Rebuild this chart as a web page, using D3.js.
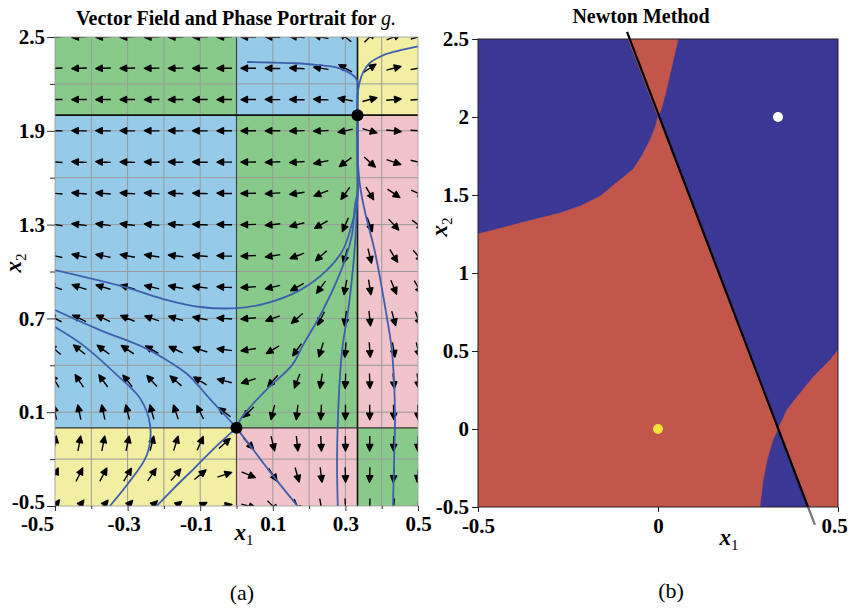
<!DOCTYPE html>
<html><head><meta charset="utf-8">
<script src="https://cdn.jsdelivr.net/npm/d3@7"></script>
<style>
body{margin:0;background:#fff}
svg{display:block}
text{font-family:"Liberation Serif","Times New Roman",serif}
</style>
</head><body>
<svg id="c" width="849" height="613"></svg>
<script>
// ---------------- DATA ----------------
// (a) vector field sample grid
const fieldX1 = [-0.5,-0.433,-0.367,-0.3,-0.233,-0.167,-0.1,-0.033,0.033,0.1,0.167,0.233,0.3,0.367,0.433,0.5];
const fieldX2 = [2.5,2.3,2.1,1.9,1.7,1.5,1.3,1.1,0.9,0.7,0.5,0.3,0.1,-0.1,-0.3,-0.5];
// horizontal components (rows follow fieldX2, columns follow fieldX1)
const fieldU = [
 [-6.25,-5.75,-5.25,-4.75,-4.25,-3.75,-3.25,-2.75,-2.25,-1.75,-1.25,-0.75,-0.25,0.25,0.75,1.25],
 [-5.75,-5.29,-4.83,-4.37,-3.91,-3.45,-2.99,-2.53,-2.07,-1.61,-1.15,-0.69,-0.23,0.23,0.69,1.15],
 [-5.25,-4.83,-4.41,-3.99,-3.57,-3.15,-2.73,-2.31,-1.89,-1.47,-1.05,-0.63,-0.21,0.21,0.63,1.05],
 [-4.75,-4.37,-3.99,-3.61,-3.23,-2.85,-2.47,-2.09,-1.71,-1.33,-0.95,-0.57,-0.19,0.19,0.57,0.95],
 [-4.25,-3.91,-3.57,-3.23,-2.89,-2.55,-2.21,-1.87,-1.53,-1.19,-0.85,-0.51,-0.17,0.17,0.51,0.85],
 [-3.75,-3.45,-3.15,-2.85,-2.55,-2.25,-1.95,-1.65,-1.35,-1.05,-0.75,-0.45,-0.15,0.15,0.45,0.75],
 [-3.25,-2.99,-2.73,-2.47,-2.21,-1.95,-1.69,-1.43,-1.17,-0.91,-0.65,-0.39,-0.13,0.13,0.39,0.65],
 [-2.75,-2.53,-2.31,-2.09,-1.87,-1.65,-1.43,-1.21,-0.99,-0.77,-0.55,-0.33,-0.11,0.11,0.33,0.55],
 [-2.25,-2.07,-1.89,-1.71,-1.53,-1.35,-1.17,-0.99,-0.81,-0.63,-0.45,-0.27,-0.09,0.09,0.27,0.45],
 [-1.75,-1.61,-1.47,-1.33,-1.19,-1.05,-0.91,-0.77,-0.63,-0.49,-0.35,-0.21,-0.07,0.07,0.21,0.35],
 [-1.25,-1.15,-1.05,-0.95,-0.85,-0.75,-0.65,-0.55,-0.45,-0.35,-0.25,-0.15,-0.05,0.05,0.15,0.25],
 [-0.75,-0.69,-0.63,-0.57,-0.51,-0.45,-0.39,-0.33,-0.27,-0.21,-0.15,-0.09,-0.03,0.03,0.09,0.15],
 [-0.25,-0.23,-0.21,-0.19,-0.17,-0.15,-0.13,-0.11,-0.09,-0.07,-0.05,-0.03,-0.01,0.01,0.03,0.05],
 [0.25,0.23,0.21,0.19,0.17,0.15,0.13,0.11,0.09,0.07,0.05,0.03,0.01,-0.01,-0.03,-0.05],
 [0.75,0.69,0.63,0.57,0.51,0.45,0.39,0.33,0.27,0.21,0.15,0.09,0.03,-0.03,-0.09,-0.15],
 [1.25,1.15,1.05,0.95,0.85,0.75,0.65,0.55,0.45,0.35,0.25,0.15,0.05,-0.05,-0.15,-0.25]
];
// vertical components
const fieldV = [
 [-0.25,-0.22,-0.18,-0.15,-0.12,-0.08,-0.05,-0.02,0.02,0.05,0.08,0.12,0.15,0.18,0.22,0.25],
 [-0.15,-0.13,-0.11,-0.09,-0.07,-0.05,-0.03,-0.01,0.01,0.03,0.05,0.07,0.09,0.11,0.13,0.15],
 [-0.05,-0.04,-0.04,-0.03,-0.02,-0.02,-0.01,0,0,0.01,0.02,0.02,0.03,0.04,0.04,0.05],
 [0.05,0.04,0.04,0.03,0.02,0.02,0.01,0,0,-0.01,-0.02,-0.02,-0.03,-0.04,-0.04,-0.05],
 [0.15,0.13,0.11,0.09,0.07,0.05,0.03,0.01,-0.01,-0.03,-0.05,-0.07,-0.09,-0.11,-0.13,-0.15],
 [0.25,0.22,0.18,0.15,0.12,0.08,0.05,0.02,-0.02,-0.05,-0.08,-0.12,-0.15,-0.18,-0.22,-0.25],
 [0.35,0.30,0.26,0.21,0.16,0.12,0.07,0.02,-0.02,-0.07,-0.12,-0.16,-0.21,-0.26,-0.30,-0.35],
 [0.45,0.39,0.33,0.27,0.21,0.15,0.09,0.03,-0.03,-0.09,-0.15,-0.21,-0.27,-0.33,-0.39,-0.45],
 [0.55,0.48,0.40,0.33,0.26,0.18,0.11,0.04,-0.04,-0.11,-0.18,-0.26,-0.33,-0.40,-0.48,-0.55],
 [0.65,0.56,0.48,0.39,0.30,0.22,0.13,0.04,-0.04,-0.13,-0.22,-0.30,-0.39,-0.48,-0.56,-0.65],
 [0.75,0.65,0.55,0.45,0.35,0.25,0.15,0.05,-0.05,-0.15,-0.25,-0.35,-0.45,-0.55,-0.65,-0.75],
 [0.85,0.74,0.62,0.51,0.40,0.28,0.17,0.06,-0.06,-0.17,-0.28,-0.40,-0.51,-0.62,-0.74,-0.85],
 [0.95,0.82,0.70,0.57,0.44,0.32,0.19,0.06,-0.06,-0.19,-0.32,-0.44,-0.57,-0.70,-0.82,-0.95],
 [1.05,0.91,0.77,0.63,0.49,0.35,0.21,0.07,-0.07,-0.21,-0.35,-0.49,-0.63,-0.77,-0.91,-1.05],
 [1.15,1.00,0.84,0.69,0.54,0.38,0.23,0.08,-0.08,-0.23,-0.38,-0.54,-0.69,-0.84,-1.00,-1.15],
 [1.25,1.08,0.92,0.75,0.58,0.42,0.25,0.08,-0.08,-0.25,-0.42,-0.58,-0.75,-0.92,-1.08,-1.25]
];
// sign-region bands and colours (rows bottom -> top)
const regionX1 = [-0.5, 0, 1/3, 0.5];
const regionX2 = [-0.5, 0, 2, 2.5];
const regionColors = [
 ["#f2eea2","#f1c3cb","#88ca8a"],
 ["#95cbe8","#88ca8a","#f1c3cb"],
 ["#88ca8a","#95cbe8","#f2eea2"]
];
const gridX1 = [-0.4,-0.3,-0.2,-0.1,0,0.1,0.2,0.3,0.4];
const gridX2 = [2.2,1.9,1.6,1.3,1.0,0.7,0.4,0.1,-0.2];
const separatrixX1 = [0, 1/3];
const separatrixX2 = [0, 2];
const equilibria = [[0,0],[1/3,2]];
const trajectories = [
 [[0.3333,2.0],[0.3334,2.12],[0.335,2.2],[0.328,2.24],[0.31,2.272],[0.28,2.302],[0.22,2.322],[0.161,2.332],[0.09,2.337],[0.029,2.34]],
 [[0.3333,2.0],[0.3336,2.12],[0.338,2.2],[0.35,2.28],[0.368,2.335],[0.404,2.383],[0.442,2.41],[0.5,2.44]],
 [[0.3333,2.0],[0.3335,1.75],[0.3345,1.52],[0.33,1.42],[0.321,1.329],[0.293,1.137],[0.249,1.009],[0.175,0.881],[0.084,0.798],[0.004,0.766],[-0.1,0.773],[-0.191,0.817],[-0.307,0.9],[-0.5,1.009]],
 [[0.3333,2.0],[0.3335,1.75],[0.3343,1.52],[0.3264,1.425],[0.318,1.233],[0.2906,1.022],[0.2355,0.741],[0.1832,0.529],[0.1529,0.401],[0.0868,0.254],[0.0427,0.146],[0.0152,0.069],[0,0]],
 [[0.3333,2.0],[0.3335,1.75],[0.3345,1.52],[0.332,1.425],[0.328,1.233],[0.321,1.022],[0.307,0.741],[0.291,0.497],[0.28,0.101],[0.277,-0.219],[0.279,-0.5]],
 [[0.3333,2.0],[0.3336,1.75],[0.34,1.553],[0.355,1.37],[0.3815,1.124],[0.4146,0.702],[0.428,0.497],[0.4366,0.101],[0.434,-0.219],[0.431,-0.5]],
 [[0,0],[-0.032,0.082],[-0.073,0.184],[-0.136,0.344],[-0.197,0.44],[-0.258,0.517],[-0.376,0.625],[-0.5,0.753]],
 [[0,0],[-0.063,-0.134],[-0.118,-0.262],[-0.174,-0.39],[-0.22,-0.5]],
 [[-0.5,0.645],[-0.423,0.529],[-0.329,0.337],[-0.266,0.19],[-0.238,0.018],[-0.247,-0.174],[-0.302,-0.366],[-0.349,-0.5]],
 [[0,0],[0.051,-0.155],[0.106,-0.322],[0.168,-0.5]]
];
const leftXTicks = [-0.5,-0.3,-0.1,0.1,0.3,0.5];
const leftXMinor = [-0.4,-0.2,0,0.2,0.4];
const leftYTicks = [2.5,1.9,1.3,0.7,0.1,-0.5];
const leftYMinor = [2.2,1.6,1.0,0.4,-0.2];

// (b) Newton basins
const basinTopWedge = [[-0.083,2.5],[0.056,2.5],[0.046,2.4],[0.034,2.28],[0.021,2.15],[0.009,2.05],[0,2]];
const basinMain = [[-0.5,1.25],[-0.5,-0.5],[0.283,-0.5],[0.292,-0.327],[0.303,-0.199],[0.319,-0.071],[0.3333,0],[0,2],[-0.01,1.92],[-0.022,1.853],[-0.045,1.75],[-0.069,1.665],[-0.106,1.596],[-0.161,1.492],[-0.215,1.43],[-0.272,1.385],[-0.383,1.32],[-0.5,1.25]];
const basinLowerRight = [[0.3333,0],[0.358,0.122],[0.386,0.205],[0.431,0.333],[0.478,0.442],[0.5,0.506],[0.5,-0.5],[0.4167,-0.5]];
const singularLine = [[-0.086,2.545],[0.4167,-0.5]];
const singularTail = [[0.4167,-0.5],[0.436,-0.615]];
const rootWhite = [1/3, 2];
const rootYellow = [0, 0];
const rightXTicks = [-0.5, 0, 0.5];
const rightYTicks = [-0.5, 0, 0.5, 1, 1.5, 2, 2.5];

// ---------------- DRAWING ----------------
const svg = d3.select("#c");
const x = d3.scaleLinear().domain([-0.5,0.5]).range([55,418]);
const y = d3.scaleLinear().domain([-0.5,2.5]).range([506,37]);
const xr = d3.scaleLinear().domain([-0.5,0.5]).range([478,838]);
const yr = d3.scaleLinear().domain([-0.5,2.5]).range([507,39]);

const defs = svg.append("defs");
defs.append("clipPath").attr("id","clipL").append("rect")
  .attr("x",x(-0.5)).attr("y",y(2.5)).attr("width",x(0.5)-x(-0.5)).attr("height",y(-0.5)-y(2.5));
defs.append("clipPath").attr("id","clipR").append("rect")
  .attr("x",xr(-0.5)).attr("y",yr(2.5)).attr("width",xr(0.5)-xr(-0.5)).attr("height",yr(-0.5)-yr(2.5));

// ----- panel (a)
const L = svg.append("g");
const LC = L.append("g").attr("clip-path","url(#clipL)");
for (let r = 0; r < 3; r++) for (let c = 0; c < 3; c++) {
  LC.append("rect")
    .attr("x", x(regionX1[c])).attr("y", y(regionX2[r+1]))
    .attr("width", x(regionX1[c+1]) - x(regionX1[c]))
    .attr("height", y(regionX2[r]) - y(regionX2[r+1]))
    .attr("fill", regionColors[r][c]);
}
LC.selectAll(".gx").data(gridX1).join("line")
  .attr("x1",d=>x(d)).attr("x2",d=>x(d)).attr("y1",y(2.5)).attr("y2",y(-0.5))
  .attr("stroke","#9a9a9a").attr("stroke-width",1);
LC.selectAll(".gy").data(gridX2).join("line")
  .attr("y1",d=>y(d)).attr("y2",d=>y(d)).attr("x1",x(-0.5)).attr("x2",x(0.5))
  .attr("stroke","#9a9a9a").attr("stroke-width",1);
LC.selectAll(".sx").data(separatrixX1).join("line")
  .attr("x1",d=>x(d)).attr("x2",d=>x(d)).attr("y1",y(2.5)).attr("y2",y(-0.5))
  .attr("stroke",(d,i)=>i?"#111":"#444").attr("stroke-width",(d,i)=>i?1.6:1.2);
LC.selectAll(".sy").data(separatrixX2).join("line")
  .attr("y1",d=>y(d)).attr("y2",d=>y(d)).attr("x1",x(-0.5)).attr("x2",x(0.5))
  .attr("stroke",(d,i)=>i?"#111":"#333").attr("stroke-width",(d,i)=>i?1.6:1.3);

// arrows
const arrows = [];
fieldX2.forEach((v2,i)=>fieldX1.forEach((v1,j)=>arrows.push({x1:v1,x2:v2,u:fieldU[i][j],v:fieldV[i][j]})));
const half = 7.5, headL = 6.5, headW = 3.1, vexag = 1.4;
LC.append("g").selectAll("path").data(arrows).join("path")
  .attr("d", d=>{
    const cx = x(d.x1), cy = y(d.x2);
    let dx = d.u, dy = -d.v*vexag;
    const m = Math.hypot(dx,dy) || 1; dx/=m; dy/=m;
    const tx = cx-dx*half, ty = cy-dy*half, hx = cx+dx*half, hy = cy+dy*half;
    const bx = hx-dx*headL, by = hy-dy*headL;
    const px = -dy*headW, py = dx*headW;
    return `M${tx},${ty}L${bx},${by}M${hx},${hy}L${bx+px},${by+py}L${bx-px},${by-py}Z`;
  })
  .attr("stroke","#000").attr("stroke-width",1.4).attr("fill","#000").attr("stroke-linejoin","round");

// trajectories
const lineL = d3.line().x(d=>x(d[0])).y(d=>y(d[1])).curve(d3.curveCatmullRom.alpha(0.5));
LC.selectAll(".traj").data(trajectories).join("path")
  .attr("d", lineL).attr("fill","none").attr("stroke","#3d5fae").attr("stroke-width",1.8);
LC.selectAll(".eq").data(equilibria).join("circle")
  .attr("cx",d=>x(d[0])).attr("cy",d=>y(d[1])).attr("r",6).attr("fill","#000");

L.append("rect").attr("x",x(-0.5)).attr("y",y(2.5)).attr("width",x(0.5)-x(-0.5)).attr("height",y(-0.5)-y(2.5))
  .attr("fill","none").attr("stroke","#999").attr("stroke-width",0.8);

const fmt1 = d3.format(".1f");
const axLY = L.append("g").attr("transform",`translate(${x(-0.5)},0)`)
  .call(d3.axisLeft(y).tickValues(leftYTicks).tickFormat(d=>fmt1(d).replace("−","-")).tickSize(8).tickPadding(2));
L.append("g").attr("transform",`translate(${x(-0.5)},0)`)
  .call(d3.axisLeft(y).tickValues(leftYMinor).tickFormat("").tickSize(5));
const axB = L.append("g").attr("transform",`translate(0,${y(-0.5)})`)
  .call(d3.axisBottom(x).tickValues(leftXTicks).tickFormat(d=>fmt1(d).replace("−","-")).tickSize(5).tickPadding(4));
L.append("g").attr("transform",`translate(0,${y(-0.5)})`)
  .call(d3.axisBottom(x).tickValues(leftXMinor).tickFormat("").tickSize(3));
L.selectAll(".domain").attr("stroke","none");
L.selectAll(".tick line").attr("stroke","#333");
L.selectAll(".tick text").attr("font-family","Liberation Serif").attr("font-weight","bold").attr("font-size",21).attr("fill","#000");
axB.selectAll(".tick text").attr("dx",d=> d===-0.5 ? -18 : (d<0 ? -4 : 0)).attr("dy","0.78em");
axLY.selectAll(".tick text").attr("dy",d=> d===-0.5 ? "0.1em" : "0.32em");

// ----- panel (b)
const R = svg.append("g");
const RC = R.append("g").attr("clip-path","url(#clipR)");
RC.append("rect").attr("x",xr(-0.5)).attr("y",yr(2.5)).attr("width",xr(0.5)-xr(-0.5)).attr("height",yr(-0.5)-yr(2.5)).attr("fill","#3a3795");
const lineR = d3.line().x(d=>xr(d[0])).y(d=>yr(d[1]));
RC.selectAll(".basin").data([basinTopWedge, basinMain, basinLowerRight]).join("path")
  .attr("d", d=>lineR(d)+"Z").attr("fill","#c3564b").attr("stroke","#c3564b").attr("stroke-width",0.5);
R.append("path").attr("d", lineR(singularLine)).attr("stroke","#000").attr("stroke-width",2.2).attr("fill","none");
R.append("path").attr("d", lineR(singularTail)).attr("stroke","#777").attr("stroke-width",2.2).attr("fill","none");
R.append("circle").attr("cx",xr(rootWhite[0])).attr("cy",yr(rootWhite[1])).attr("r",5).attr("fill","#fff");
R.append("circle").attr("cx",xr(rootYellow[0])).attr("cy",yr(rootYellow[1])).attr("r",5).attr("fill","#f2e23a");
R.append("rect").attr("x",xr(-0.5)).attr("y",yr(2.5)).attr("width",xr(0.5)-xr(-0.5)).attr("height",yr(-0.5)-yr(2.5))
  .attr("fill","none").attr("stroke","#222").attr("stroke-width",1);
const fmtR = d=> (d===0?"0":String(d)).replace("−","-");
R.append("g").attr("transform",`translate(${xr(-0.5)},0)`)
  .call(d3.axisLeft(yr).tickValues(rightYTicks).tickFormat(fmtR).tickSize(6).tickPadding(3));
const axRB = R.append("g").attr("transform",`translate(0,${yr(-0.5)})`)
  .call(d3.axisBottom(xr).tickValues(rightXTicks).tickFormat(fmtR).tickSize(5).tickPadding(8));
R.selectAll(".domain").attr("stroke","none");
R.selectAll(".tick line").attr("stroke","#222");
R.selectAll(".tick text").attr("font-family","Liberation Serif").attr("font-weight","bold").attr("font-size",21).attr("fill","#000");
axRB.selectAll(".tick text").attr("dy","0.62em").attr("dx",d=>d===0.5?-4:0);

// ----- titles & labels
function axisLabel(g, tx, ty, sub, rot) {
  const t = g.append("text").attr("transform",`translate(${tx},${ty}) rotate(${rot||0})`)
    .attr("text-anchor","middle").attr("font-family","Liberation Serif");
  t.append("tspan").attr("font-weight","bold").attr("font-style","italic").attr("font-size",23).text("x");
  t.append("tspan").attr("font-size",15).attr("font-weight","normal").attr("dy",5).text(sub);
}
axisLabel(svg, 244, 540, "1", 0);
axisLabel(svg, 729, 545, "1", 0);
axisLabel(svg, 21, 263, "2", -90);
axisLabel(svg, 447, 227, "2", -90);

const t1 = svg.append("text").attr("x",236).attr("y",25).attr("text-anchor","middle")
  .attr("font-weight","bold").attr("font-size",20);
t1.append("tspan").text("Vector Field and Phase Portrait for ");
t1.append("tspan").attr("font-style","italic").attr("font-weight","normal").text("g.");
svg.append("text").attr("x",641).attr("y",23).attr("text-anchor","middle")
  .attr("font-weight","bold").attr("font-size",20).text("Newton Method");
svg.append("text").attr("x",242).attr("y",600).attr("text-anchor","middle").attr("font-size",22).text("(a)");
svg.append("text").attr("x",671).attr("y",598).attr("text-anchor","middle").attr("font-size",22).text("(b)");
</script>
</body></html>
